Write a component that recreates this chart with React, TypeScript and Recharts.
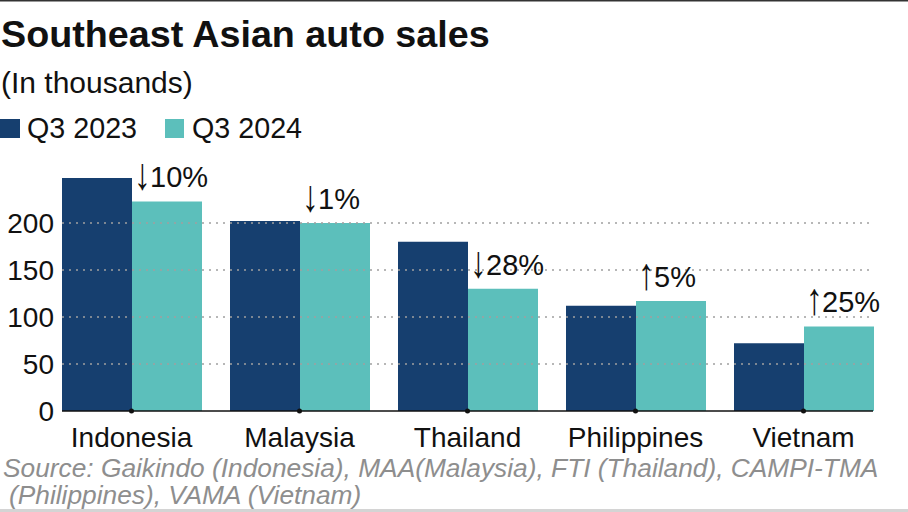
import React from 'react';
import { BarChart, Bar, XAxis, YAxis, ReferenceLine, LabelList } from 'recharts';

const categories = ['Indonesia', 'Malaysia', 'Thailand', 'Philippines', 'Vietnam'];
const q3_2023 = [248, 202, 180, 112, 72];
const q3_2024 = [223, 200, 130, 117, 90];
const changeArrows = ['↓', '↓', '↓', '↑', '↑'];
const changeValues = ['10%', '1%', '28%', '5%', '25%'];
const yTicks = [0, 50, 100, 150, 200];
const gridValues = [50, 100, 150, 200];
const seriesNames = ['Q3 2023', 'Q3 2024'];
const seriesColors = ['#163f6f', '#5cbfbb'];

const data = categories.map((name, i) => ({
  name,
  a: q3_2023[i],
  b: q3_2024[i],
  label: changeArrows[i] + '|' + changeValues[i],
}));

const FONT = '"Liberation Sans", Arial, Helvetica, sans-serif';

const CategoryTick = (props: any) => {
  const { x, y, payload } = props;
  return (
    <g>
      <circle cx={x} cy={y} r={2.5} fill="#111" />
      <text x={x} y={y + 36} textAnchor="middle" fontSize={28} fill="#111">
        {payload.value}
      </text>
    </g>
  );
};

const ChangeLabel = (props: any) => {
  const { x, y, value } = props;
  const [arrow, pct] = String(value).split('|');
  const bx = Number(x) + 2;
  const by = Number(y) - 14;
  return (
    <g>
      <text
        transform={`translate(${bx},${by + 2}) scale(1.2,1.6)`}
        x={0}
        y={0}
        fontSize={28}
        fill="#111"
      >
        {arrow}
      </text>
      <text x={bx + 16} y={by} fontSize={29} fill="#111">
        {pct}
      </text>
    </g>
  );
};

export default function App() {
  return (
    <div
      style={{
        position: 'absolute',
        left: 0,
        top: 0,
        width: 908,
        height: 512,
        background: '#fff',
        fontFamily: FONT,
        overflow: 'hidden',
      }}
    >
      <BarChart
        width={908}
        height={512}
        data={data}
        margin={{ top: 176, right: 35, bottom: 41, left: 0 }}
        barCategoryGap={14.5}
        barGap={0}
      >
        <XAxis
          dataKey="name"
          interval={0}
          padding={{ left: -14.5, right: -14.5 }}
          axisLine={{ stroke: '#111', strokeWidth: 1.5 }}
          tickLine={false}
          tickSize={0}
          tickMargin={0}
          height={60}
          tick={<CategoryTick />}
        />
        <YAxis
          domain={[0, 250]}
          ticks={yTicks}
          interval={0}
          axisLine={false}
          tickLine={false}
          tickSize={0}
          tickMargin={8}
          width={62}
          tick={{ fontSize: 28, fill: '#111' }}
        />
        <Bar dataKey="a" name={seriesNames[0]} fill={seriesColors[0]} isAnimationActive={false} />
        <Bar dataKey="b" name={seriesNames[1]} fill={seriesColors[1]} isAnimationActive={false}>
          <LabelList dataKey="label" content={<ChangeLabel />} />
        </Bar>
        {gridValues.map((v) => (
          <ReferenceLine
            key={v}
            y={v}
            stroke="#a0a0a0"
            strokeWidth={1.6}
            strokeDasharray="2 5"
          />
        ))}
      </BarChart>
      <svg
        width={908}
        height={512}
        style={{ position: 'absolute', left: 0, top: 0, pointerEvents: 'none' }}
      >
        <rect x={0} y={0} width={908} height={1.5} fill="#333" />
        <text x={1} y={47} fontSize={37.7} fontWeight="bold" fill="#111">
          Southeast Asian auto sales
        </text>
        <text x={1} y={93} fontSize={30} fill="#111">
          (In thousands)
        </text>
        <rect x={0} y={119} width={20} height={19} fill={seriesColors[0]} />
        <text x={27} y={138} fontSize={28.7} fill="#111">
          {seriesNames[0]}
        </text>
        <rect x={165} y={119} width={19} height={19} fill={seriesColors[1]} />
        <text x={192} y={138} fontSize={28.7} fill="#111">
          {seriesNames[1]}
        </text>
        <text x={3} y={477} fontSize={26.3} fontStyle="italic" fill="#8e8e8e">
          Source: Gaikindo (Indonesia), MAA(Malaysia), FTI (Thailand), CAMPI-TMA
        </text>
        <text x={9} y={504} fontSize={26.3} fontStyle="italic" fill="#8e8e8e">
          (Philippines), VAMA (Vietnam)
        </text>
        <rect x={0} y={509} width={908} height={3} fill="#d4d4d4" />
      </svg>
    </div>
  );
}
